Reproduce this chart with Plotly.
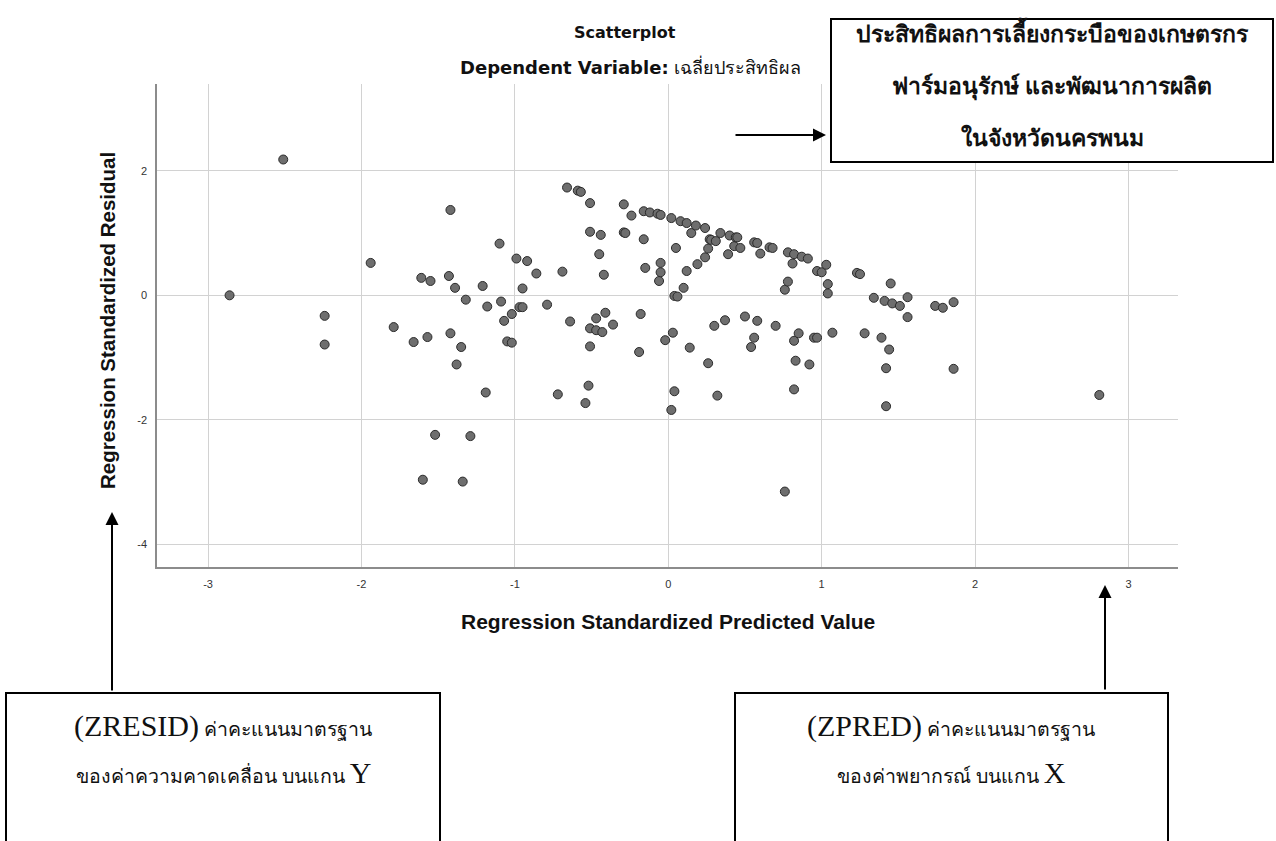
import plotly.graph_objects as go

# standardized predicted values (x) and standardized residuals (y)
zpred = [
    -2.86, -2.51, -2.24, -2.24, -1.94, -1.79, -1.66, -1.61, -1.60, -1.57,
    -1.55, -1.52, -1.43, -1.42, -1.42, -1.39, -1.38, -1.35, -1.34, -1.32,
    -1.29, -1.21, -1.19, -1.18, -1.10, -1.09, -1.07, -1.05, -1.02, -1.02,
    -0.99, -0.97, -0.95, -0.95, -0.92, -0.86, -0.79, -0.72, -0.69, -0.66,
    -0.64, -0.59, -0.57, -0.54, -0.52, -0.51, -0.51, -0.51, -0.51, -0.47,
    -0.47, -0.45, -0.44, -0.43, -0.42, -0.41, -0.36, -0.29, -0.29, -0.28,
    -0.24, -0.19, -0.18, -0.16, -0.16, -0.15, -0.12, -0.07, -0.06, -0.05,
    -0.05, -0.05, -0.02, 0.02, 0.02, 0.03, 0.04, 0.04, 0.05, 0.06,
    0.08, 0.10, 0.12, 0.12, 0.14, 0.15, 0.18, 0.19, 0.24, 0.24,
    0.26, 0.26, 0.27, 0.28, 0.30, 0.31, 0.32, 0.34, 0.37, 0.39,
    0.40, 0.43, 0.44, 0.45, 0.47, 0.50, 0.54, 0.56, 0.56, 0.58,
    0.58, 0.60, 0.66, 0.68, 0.70, 0.76, 0.76, 0.78, 0.78, 0.81,
    0.82, 0.82, 0.82, 0.83, 0.85, 0.87, 0.91, 0.92, 0.95, 0.97,
    0.97, 1.00, 1.03, 1.04, 1.04, 1.07, 1.23, 1.25, 1.28, 1.34,
    1.39, 1.41, 1.42, 1.42, 1.44, 1.45, 1.46, 1.51, 1.56, 1.56,
    1.74, 1.79, 1.86, 1.86, 2.81,
]
zresid = [
    0.00, 2.18, -0.33, -0.79, 0.52, -0.51, -0.75, 0.28, -2.96, -0.67,
    0.23, -2.24, 0.31, 1.37, -0.61, 0.12, -1.11, -0.83, -2.99, -0.07,
    -2.26, 0.15, -1.56, -0.18, 0.83, -0.10, -0.41, -0.74, -0.30, -0.76,
    0.59, -0.19, -0.19, 0.11, 0.55, 0.35, -0.15, -1.59, 0.38, 1.73,
    -0.42, 1.68, 1.66, -1.73, -1.45, 1.48, 1.02, -0.53, -0.82, -0.37,
    -0.56, 0.66, 0.97, -0.59, 0.33, -0.28, -0.47, 1.46, 1.01, 1.00,
    1.28, -0.91, -0.30, 1.35, 0.90, 0.44, 1.33, 1.31, 0.23, 1.29,
    0.52, 0.37, -0.72, 1.24, -1.84, -0.60, -0.01, -1.54, 0.76, -0.02,
    1.19, 0.12, 1.16, 0.39, -0.84, 1.00, 1.12, 0.50, 1.08, 0.61,
    0.75, -1.09, 0.90, 0.89, -0.49, 0.87, -1.61, 1.00, -0.40, 0.66,
    0.96, 0.79, 0.93, 0.93, 0.76, -0.34, -0.83, 0.85, -0.68, 0.84,
    -0.41, 0.67, 0.77, 0.76, -0.49, 0.09, -3.15, 0.69, 0.22, 0.51,
    0.66, -0.73, -1.51, -1.05, -0.61, 0.62, 0.59, -1.11, -0.68, 0.39,
    -0.68, 0.37, 0.49, 0.18, 0.03, -0.60, 0.36, 0.34, -0.61, -0.04,
    -0.68, -0.09, -1.17, -1.78, -0.87, 0.19, -0.13, -0.17, -0.03, -0.35,
    -0.17, -0.20, -0.11, -1.18, -1.60,
]

x_ticks = [-3, -2, -1, 0, 1, 2, 3]
y_ticks = [-4, -2, 0, 2]

W, H = 1276, 841
L, R, T, B = 157, 1178, 84, 567


def px(x):
    return (x - L) / (R - L)


def py(y):
    return (B - y) / (B - T)


fig = go.Figure()
fig.add_trace(go.Scatter(
    x=zpred, y=zresid, mode='markers',
    marker=dict(size=9, color='#6e6e6e', line=dict(color='#2b2b2b', width=1)),
    hoverinfo='x+y', showlegend=False,
))

axis_common = dict(
    showgrid=True, gridcolor='#d2d2d2', gridwidth=1.3,
    zeroline=False, showline=True, linecolor='#8c8c8c', linewidth=1.5,
    ticks='', tickfont=dict(family='Liberation Sans, Arial', size=11, color='#333333'),
)

fig.update_layout(
    width=W, height=H,
    margin=dict(l=L, r=W - R, t=T, b=H - B),
    paper_bgcolor='white', plot_bgcolor='white',
    xaxis=dict(range=[-3.333, 3.323], tickvals=x_ticks, ticklabelstandoff=6,
               ticktext=[str(v) for v in x_ticks], **axis_common),
    yaxis=dict(range=[-4.361, 3.392], tickvals=y_ticks, ticklabelstandoff=6,
               ticktext=[str(v) for v in y_ticks], **axis_common),
)

anns = []
# titles
anns.append(dict(x=px(625), y=py(33), text='<b>Scatterplot</b>',
                 font=dict(family='DejaVu Sans', size=16, color='#111')))
anns.append(dict(x=px(630), y=py(67), text='<b>Dependent Variable:</b> เฉลี่ยประสิทธิผล',
                 font=dict(family='DejaVu Sans', size=18, color='#111')))
# axis titles
anns.append(dict(x=px(668), y=py(621), text='<b>Regression Standardized Predicted Value</b>',
                 font=dict(family='Liberation Sans, Arial', size=21, color='#111')))
anns.append(dict(x=px(107), y=py(321), text='<b>Regression Standardized Residual</b>', textangle=-90,
                 font=dict(family='Liberation Sans, Arial', size=20.5, color='#111')))

# top-right note box
top_lines = ['ประสิทธิผลการเลี้ยงกระบือของเกษตรกร', 'ฟาร์มอนุรักษ์ และพัฒนาการผลิต', 'ในจังหวัดนครพนม']
for i, line in enumerate(top_lines):
    anns.append(dict(x=px(1052), y=py(33 + 52 * i), text='<b>' + line + '</b>',
                     font=dict(family='Noto Sans, Tahoma, sans-serif', size=23, color='#111')))

# bottom boxes
big = '<span style="font-size:30px">%s</span>'
left_lines = [big % '(ZRESID)' + ' ค่าคะแนนมาตรฐาน', 'ของค่าความคาดเคลื่อน บนแกน ' + big % 'Y']
right_lines = [big % '(ZPRED)' + ' ค่าคะแนนมาตรฐาน', 'ของค่าพยากรณ์ บนแกน ' + big % 'X']
for i, line in enumerate(left_lines):
    anns.append(dict(x=px(223), y=py(726 + 46 * i), text=line,
                     font=dict(family='Liberation Serif, Times New Roman, serif', size=19.5, color='#111')))
for i, line in enumerate(right_lines):
    anns.append(dict(x=px(951), y=py(726 + 46 * i), text=line,
                     font=dict(family='Liberation Serif, Times New Roman, serif', size=19.5, color='#111')))

for a in anns:
    a.update(xref='paper', yref='paper', showarrow=False, xanchor='center', yanchor='middle')

# arrows
arrows = [((826, 135), (-92, 0)), ((112, 512), (0, 180)), ((1105, 585), (0, 106))]
for (hx, hy), (ax, ay) in arrows:
    anns.append(dict(x=px(hx), y=py(hy), xref='paper', yref='paper', text='', showarrow=True,
                     ax=ax, ay=ay, arrowhead=2, arrowsize=1.3, arrowwidth=2, arrowcolor='black'))

fig.update_layout(annotations=anns)

boxes = [(831, 19, 1273, 162), (6, 693, 440, 860), (735, 693, 1168, 860)]
for x0, y0, x1, y1 in boxes:
    fig.add_shape(type='rect', xref='paper', yref='paper',
                  x0=px(x0), x1=px(x1), y0=py(y0), y1=py(y1),
                  line=dict(color='black', width=2), fillcolor='white', layer='above')

fig.write_html('out.html', config={'displayModeBar': False},
               post_script="document.body.style.margin='0';")
